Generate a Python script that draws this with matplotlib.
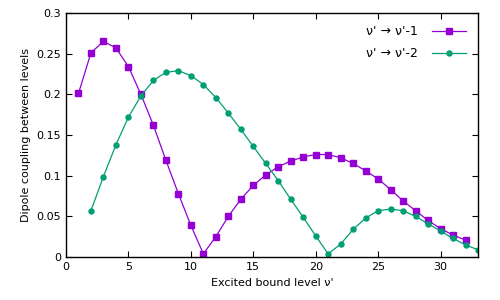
import numpy as np
import matplotlib.pyplot as plt

# data
x1 = list(range(1, 33))
y1 = [0.201, 0.251, 0.265, 0.257, 0.234, 0.200, 0.162, 0.119, 0.078, 0.039,
      0.004, 0.025, 0.050, 0.071, 0.088, 0.101, 0.111, 0.118, 0.123, 0.126,
      0.126, 0.122, 0.115, 0.106, 0.096, 0.083, 0.069, 0.057, 0.045, 0.035,
      0.027, 0.021]

x2 = list(range(2, 34))
y2 = [0.057, 0.099, 0.138, 0.172, 0.198, 0.217, 0.227, 0.229, 0.223, 0.212,
      0.196, 0.177, 0.157, 0.136, 0.115, 0.094, 0.071, 0.049, 0.026, 0.004,
      0.016, 0.034, 0.048, 0.057, 0.059, 0.057, 0.050, 0.041, 0.032, 0.023,
      0.015, 0.009]

label1 = "ν' → ν'-1"
label2 = "ν' → ν'-2"

fig = plt.figure(figsize=(5, 3), dpi=100)
ax = fig.add_axes([0.132, 0.143, 0.824, 0.814])

ax.plot(x1, y1, color="#9400D3", lw=0.9, marker="s", ms=4.2, label=label1)
ax.plot(x2, y2, color="#009E73", lw=0.9, marker="o", ms=3.6, label=label2)

ax.set_xlim(0, 33)
ax.set_ylim(0, 0.3)
ax.set_xticks([0, 5, 10, 15, 20, 25, 30])
ax.set_yticks([0, 0.05, 0.1, 0.15, 0.2, 0.25, 0.3])
ax.set_yticklabels(["0", "0.05", "0.1", "0.15", "0.2", "0.25", "0.3"])
ax.tick_params(direction="in", top=True, right=True, labelsize=8, length=4, width=0.8)
for s in ax.spines.values():
    s.set_linewidth(1)

ax.set_xlabel("Excited bound level ν'", fontsize=8)
ax.set_ylabel("Dipole coupling between levels", fontsize=8)

ax.legend(loc="upper right", frameon=False, markerfirst=False, fontsize=9,
          handlelength=2.7, handletextpad=1.1, borderaxespad=0.6,
          labelspacing=0.7)

plt.savefig("out.png", dpi=100)
plt.close()
